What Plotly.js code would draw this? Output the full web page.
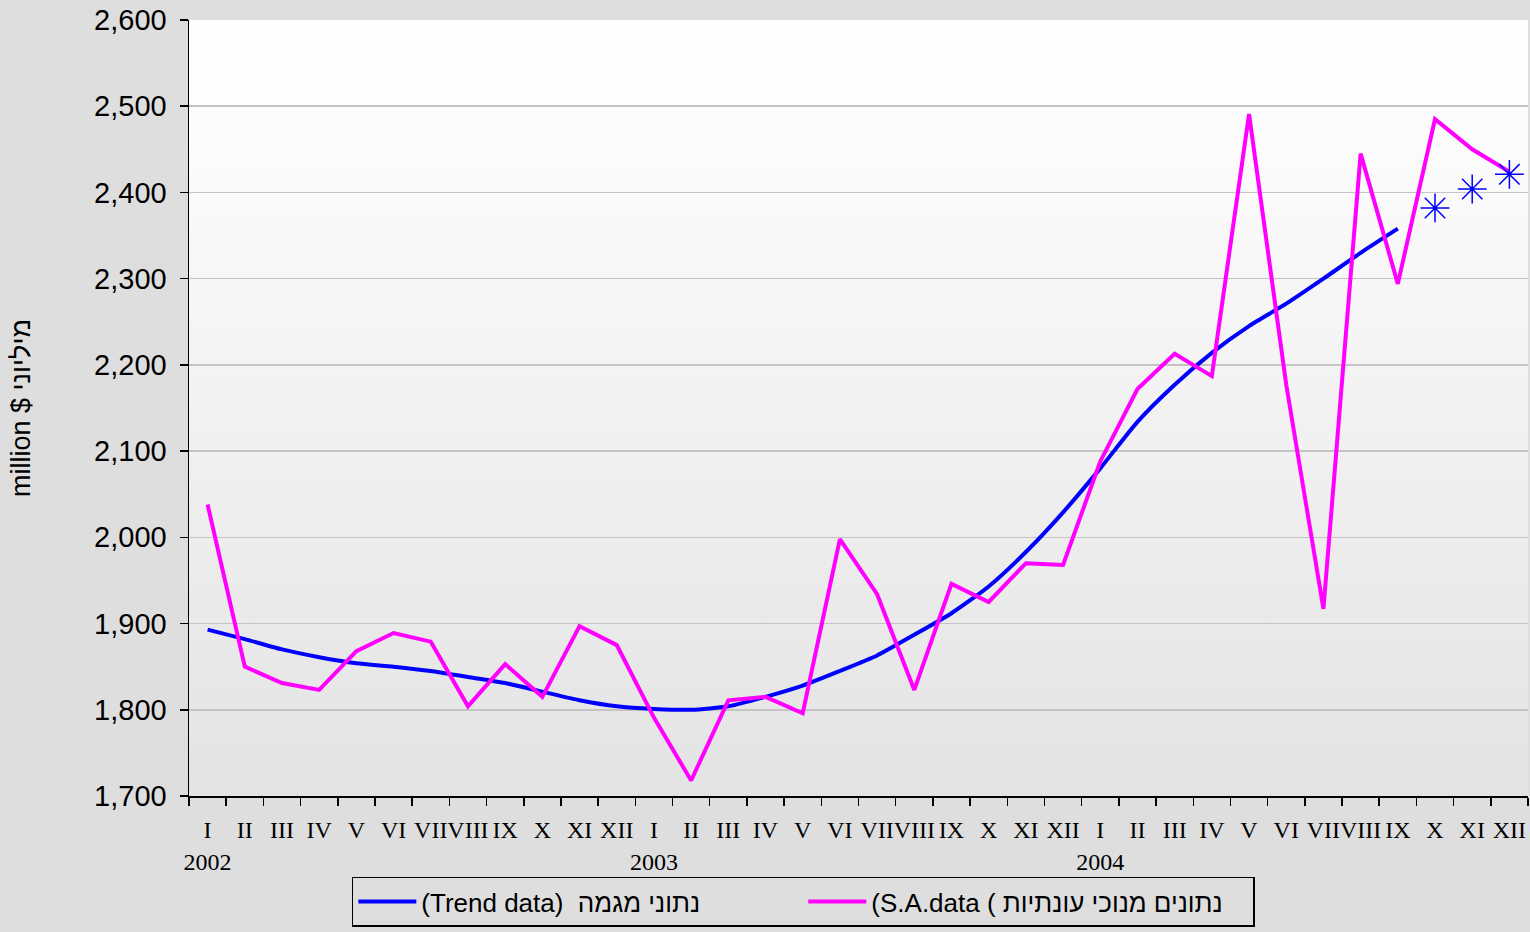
<!DOCTYPE html>
<html>
<head>
<meta charset="utf-8">
<script src="https://cdn.plot.ly/plotly-3.0.1.min.js"></script>
<style>
  html, body { margin: 0; padding: 0; background: #dedede; }
  #chart { width: 1530px; height: 932px; }
</style>
</head>
<body>
<div id="chart"></div>
<script>
// ---- data ----
const months = ['I','II','III','IV','V','VI','VII','VIII','IX','X','XI','XII'];
const years = ['2002','2003','2004'];
const saValues = [2038, 1850, 1831, 1823, 1868, 1889, 1879, 1804, 1853, 1815, 1897, 1875,
                  1791, 1718, 1811, 1815, 1796, 1998, 1934, 1823, 1946, 1925, 1970, 1968,
                  2088, 2172, 2213, 2187, 2491, 2177, 1917, 2445, 2294, 2485, 2450, 2424];
const trendValues = [1893, 1882, 1870, 1861, 1854, 1850, 1845, 1838, 1831, 1821, 1811, 1804,
                     1801, 1800, 1804, 1815, 1828, 1845, 1863, 1887, 1912, 1943, 1983, 2029,
                     2080, 2134, 2177, 2214, 2245, 2271, 2300, 2330, 2358];
const forecastValues = [2382, 2404, 2421];
const trendName = '(Trend data)  נתוני מגמה';
const saName = '(S.A.data ( נתונים מנוכי עונתיות';
const yTitle = 'million $ מיליוני';

// ---- categories ----
const cats = [];
const labels = [];
years.forEach(y => months.forEach(m => {
  cats.push(m + ' ' + y);
  labels.push(m === 'I' ? m + '<br>' + y : m);
}));
const trendX = cats.slice(0, trendValues.length);
const forecastX = cats.slice(cats.length - forecastValues.length);

const gradSvg = "<svg xmlns='http://www.w3.org/2000/svg' width='100' height='100' preserveAspectRatio='none'>" +
  "<defs><linearGradient id='g' x1='0' y1='0' x2='0' y2='1'>" +
  "<stop offset='0' stop-color='#ffffff'/><stop offset='0.12' stop-color='#fdfdfd'/>" +
  "<stop offset='1' stop-color='#e3e3e3'/></linearGradient></defs>" +
  "<rect width='100' height='100' fill='url(#g)'/></svg>";
const gradUri = 'data:image/svg+xml;charset=utf-8,' + encodeURIComponent(gradSvg);

const traces = [
  {
    x: trendX, y: trendValues, name: trendName, type: 'scatter', mode: 'lines',
    line: { color: '#0000ff', width: 4, shape: 'spline', smoothing: 0.6 }
  },
  {
    x: cats, y: saValues, name: saName, type: 'scatter', mode: 'lines',
    line: { color: '#ff00ff', width: 4 }
  },
  {
    x: forecastX, y: forecastValues, name: 'forecast', type: 'scatter', mode: 'markers',
    showlegend: false,
    marker: { symbol: 'asterisk-open', size: 24, color: '#0000ff', line: { color: '#0000ff', width: 1.5 } }
  }
];

const layout = {
  width: 1530, height: 932,
  margin: { l: 189, r: 2, t: 20, b: 136 },
  paper_bgcolor: '#dedede',
  plot_bgcolor: 'rgba(0,0,0,0)',
  showlegend: true,
  images: [{
    source: gradUri, xref: 'paper', yref: 'paper', x: 0, y: 1, sizex: 1, sizey: 1,
    sizing: 'stretch', xanchor: 'left', yanchor: 'top', layer: 'below'
  }],
  xaxis: {
    type: 'category',
    categoryorder: 'array', categoryarray: cats,
    range: [-0.5, cats.length - 0.5],
    tickmode: 'array', tickvals: cats, ticktext: labels,
    tickson: 'boundaries',
    ticks: 'outside', ticklen: 8, tickwidth: 1.5, tickcolor: '#000',
    showline: true, linecolor: '#000', linewidth: 1.5,
    showgrid: false, zeroline: false,
    tickangle: 0,
    ticklabelstandoff: 12,
    tickfont: { family: 'Liberation Serif, Times New Roman, serif', size: 24, color: '#000' },
    automargin: false
  },
  yaxis: {
    range: [1700, 2600], dtick: 100, tick0: 1700,
    tickformat: ',d',
    ticks: 'outside', ticklen: 8, tickwidth: 1.5, tickcolor: '#000',
    showline: true, linecolor: '#000', linewidth: 1.5,
    showgrid: true, gridcolor: '#c4c4c4', gridwidth: 1.5,
    zeroline: false,
    ticklabelstandoff: 7,
    tickfont: { family: 'Liberation Sans, Arial, sans-serif', size: 29, color: '#000' },
    title: { text: yTitle, standoff: 55, font: { family: 'Liberation Sans, Arial, sans-serif', size: 27, color: '#000' } },
    automargin: false
  },
  legend: {
    orientation: 'h',
    x: 0.1216, xanchor: 'left',
    y: -0.104, yanchor: 'top',
    bgcolor: 'rgba(0,0,0,0)',
    bordercolor: '#000', borderwidth: 1.5,
    itemwidth: 58,
    entrywidth: 377, entrywidthmode: 'pixels',
    font: { family: 'Liberation Sans, Arial, sans-serif', size: 26, color: '#000' }
  }
};

Plotly.newPlot('chart', traces, layout, { displayModeBar: false, staticPlot: true });
</script>
</body>
</html>
